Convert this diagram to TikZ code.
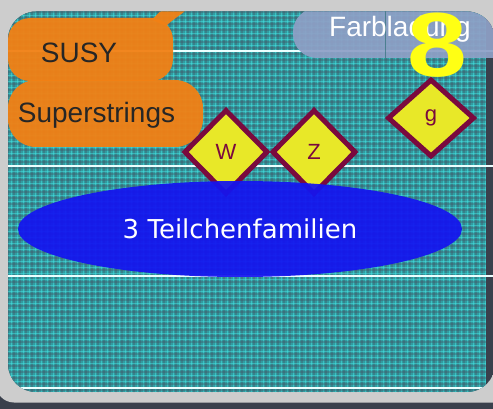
\documentclass[tikz,border=0pt]{standalone}
\usepackage{fontspec}
\usepackage{graphicx}
\newfontfamily\sansA{Liberation Sans}
\newfontfamily\sansB{DejaVu Sans}
\usetikzlibrary{shapes.geometric}

\definecolor{bgdark}{RGB}{58,64,76}
\definecolor{tealbase}{RGB}{50,155,160}
\definecolor{gridcyan}{RGB}{70,235,235}
\definecolor{griddark}{RGB}{70,82,98}
\definecolor{framegray}{RGB}{205,205,205}
\definecolor{boxorange}{RGB}{242,128,20}
\definecolor{tagblue}{RGB}{142,160,198}
\definecolor{gemyellow}{RGB}{232,232,40}
\definecolor{gemrim}{RGB}{122,10,62}
\definecolor{famblue}{RGB}{20,20,240}
\definecolor{digit}{RGB}{255,255,20}
\definecolor{rulewhite}{RGB}{235,255,255}

\tikzset{
  rule/.style={draw=rulewhite, line width=2.4},
  orangebox/.style={fill=boxorange, fill opacity=0.95},
  boxtext/.style={font=\sansA\fontsize{28}{32}\selectfont, text=black!85, inner sep=0},
  gem/.style={diamond, draw=gemrim, line width=5, fill=gemyellow, inner sep=0,
    text=gemrim, font=\sansA\fontsize{22}{26}\selectfont},
}

\begin{document}
\begin{tikzpicture}[x=1pt,y=-1pt]
\useasboundingbox (0,0) rectangle (493,409);
\fill[bgdark] (0,0) rectangle (493,409);

% gray frame
\fill[framegray, rounded corners=18] (-4,-8) rectangle (512,402.5);

\begin{scope}
  \clip[rounded corners=28] (8,11.5) rectangle (495,392);
  \fill[bgdark] (8,11.5) rectangle (495,392);
  % teal panel with plaid texture
  \fill[tealbase] (8,11.5) rectangle (486,392);
  \begin{scope}
    \clip (8,11.5) rectangle (486,392);
    \foreach \k in {0,...,80} {
      \draw[griddark, line width=1.2, opacity=0.35] (8+6*\k,11.5) -- ++(0,381);
      \draw[gridcyan, line width=0.9, opacity=0.45] (11+6*\k,11.5) -- ++(0,381);
    }
    \foreach \k in {0,...,64} {
      \draw[griddark, line width=1.2, opacity=0.35] (8,12+6*\k) -- ++(478,0);
      \draw[gridcyan, line width=0.9, opacity=0.45] (8,15+6*\k) -- ++(478,0);
    }
  \end{scope}

  % horizontal rules
  \draw[rule] (8,51) -- (495,51);
  \draw[rule] (8,166) -- (495,166);
  \draw[rule] (8,276) -- (495,276);
  \draw[rule] (8,388) -- (486,388);

  % orange boxes
  \fill[orangebox] (150,19) .. controls (156,19) and (158,11) .. (162,11)
     -- (185,11) .. controls (179,16) and (171,21) .. (166,26) -- cycle;
  \fill[orangebox, rounded corners=22] (8,18) rectangle (173,81);
  \fill[orangebox, rounded corners=28] (8,80) rectangle (203,147);

  % colour-charge tag
  \fill[tagblue, fill opacity=0.93, rounded corners=24] (293,8) rectangle (520,58);
  \draw[tealbase!70!black, line width=0.6, opacity=0.6] (385.5,11.5) -- (385.5,58);
\end{scope}

% texts on the boxes
\node[boxtext, anchor=base] (susy) at (79,63) {SUSY};
\node[boxtext, anchor=base] (strings) at (96.5,123) {Superstrings};
\node[boxtext, text=white, anchor=base] (farb) at (400,37) {Farbladung};

% gauge bosons
\node[gem, minimum width=84, minimum height=85] (W) at (226,152) {W};
\node[gem, minimum width=84, minimum height=85] (Z) at (314,152) {Z};
\node[gem, minimum width=87, minimum height=78] (g) at (431,118) {g};

% families
\node[ellipse, fill=famblue, fill opacity=0.93, text opacity=1, inner sep=0,
      minimum width=444, minimum height=96, text=white,
      font=\sansB\fontsize{26}{30}\selectfont] (fam) at (240,229) {3 Teilchenfamilien};

% slide number
\node[text=digit, inner sep=0, font=\sansA\bfseries\fontsize{91}{91}\selectfont]
  (num) at (437,45) {\scalebox{1.18}[1]{8}};
\end{tikzpicture}
\end{document}
